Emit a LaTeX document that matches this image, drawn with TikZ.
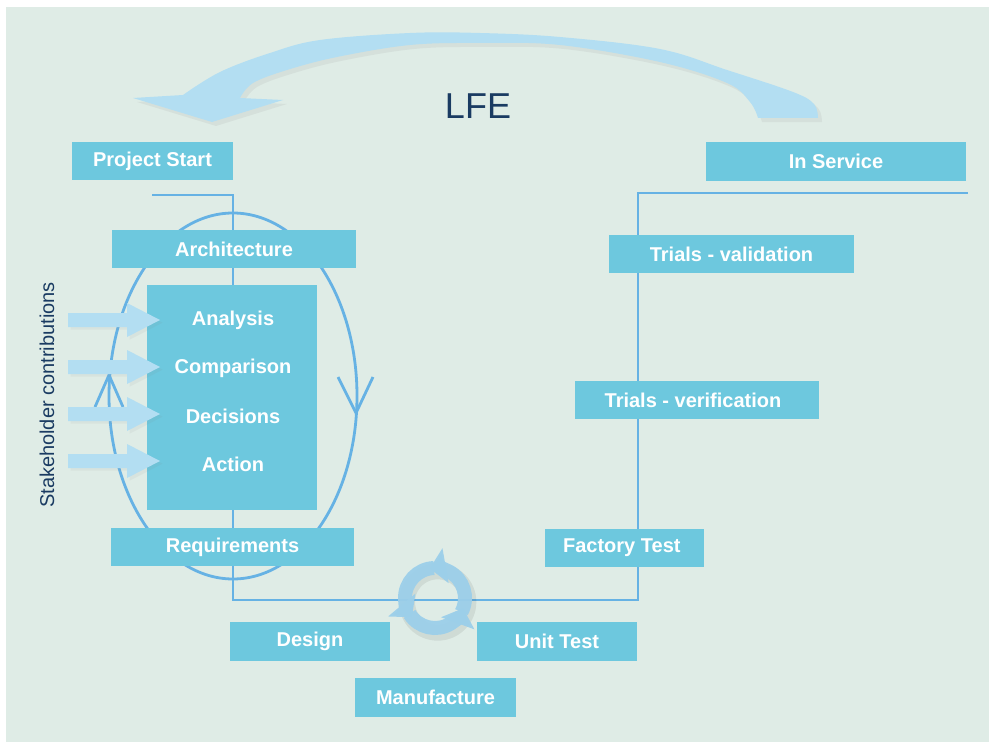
\documentclass[tikz,border=0pt]{standalone}
\usepackage{fontspec}
\setmainfont{Liberation Sans}
\usetikzlibrary{arrows.meta,shadows,calc}
\definecolor{bgc}{HTML}{DFECE6}
\definecolor{boxc}{HTML}{6DC8DE}
\definecolor{linec}{HTML}{66B2E4}
\definecolor{navy}{HTML}{1A3B62}
\definecolor{pale}{HTML}{B3DEF2}
\definecolor{ringc}{HTML}{9CCFEA}
\tikzset{
  stage/.style={fill=boxc, draw=none, text=white, inner sep=0pt,
    font=\fontsize{15}{18}\selectfont\bfseries, minimum height=28.5pt},
  inbox/.style={text=white, inner sep=0pt, font=\fontsize{15}{18}\selectfont\bfseries},
  flow/.style={draw=linec, line width=2.1pt, line join=miter},
  chev/.style={draw=linec, line width=2.1pt, line join=miter},
  stkarrow/.style={fill=pale},
  ring/.style={draw=ringc, line width=10.5pt, -{Triangle[width=26pt,length=12pt]}},
}
\begin{document}
\begin{tikzpicture}[x=0.75pt,y=-0.75pt]
\useasboundingbox (0,0) rectangle (989,742);
\fill[white] (0,0) rectangle (989,742);
\fill[bgc] (6,7) rectangle (989,742);

% main flow line
\coordinate (p0) at (152,195);
\coordinate (p1) at (233,195);
\coordinate (p2) at (233,600);
\coordinate (p3) at (638,600);
\coordinate (p4) at (638,193);
\coordinate (p5) at (968,193);
\draw[flow] (p0) -- (p1) -- (p2) -- (p3) -- (p4) -- (p5);

% iteration ellipse
\coordinate (ec) at (233,396);
\draw[flow] (ec) ellipse [x radius=93pt, y radius=137.25pt];
\coordinate (cr) at (356,413);
\coordinate (cl) at (109,375);
\draw[chev] ($(cr)+(-18,-36)$) -- (cr) -- ($(cr)+(17,-36)$);
\draw[chev] ($(cl)+(-14,32)$) -- (cl) -- ($(cl)+(14,32)$);

% boxes
\node[stage, minimum width=120.75pt] (ps) at (152.5,161) {Project Start};
\node[stage, minimum width=195pt, minimum height=29.25pt] (is) at (836,161.5) {In Service};
\node[stage, minimum width=183pt] (arch) at (234,249) {Architecture};
\node[stage, minimum width=127.5pt, minimum height=168.75pt] (big) at (232,397.5) {};
\node[stage, minimum width=182.25pt] (req) at (232.5,547) {Requirements};
\node[stage, minimum width=183.75pt] (tval) at (731.5,254) {Trials - validation};
\node[stage, minimum width=183pt] (tver) at (697,400) {\hspace*{-6pt}Trials - verification};
\node[stage, minimum width=119.25pt] (ft) at (624.5,548) {\hspace*{-4pt}Factory Test};
\node[stage, minimum width=120pt, minimum height=29.25pt] (des) at (310,641.5) {Design};
\node[stage, minimum width=120pt, minimum height=29.25pt] (ut) at (557,641.5) {Unit Test};
\node[stage, minimum width=120.75pt, minimum height=29.25pt] (man) at (435.5,697.5) {Manufacture};

% stakeholder arrows
\foreach \c in {320,367,414,461}{
  \fill[stkarrow, drop shadow={opacity=0.08, shadow xshift=2pt, shadow yshift=-2pt}] (68,\c-7) -- (127,\c-7) -- (127,\c-17) -- (160,\c)
    -- (127,\c+17) -- (127,\c+7) -- (68,\c+7) -- cycle;
}

% texts in the big box
\node[inbox] (ana) at (233,320) {Analysis};
\node[inbox] (cmp) at (233,368) {Comparison};
\node[inbox] (dec) at (233,416) {Decisions};
\node[inbox] (act) at (233,464) {Action};

\node[rotate=90, text=navy, inner sep=0pt, font=\fontsize{15}{18}\selectfont] (stk) at (47,395) {Stakeholder contributions};

% cycle icon
\coordinate (cyc) at (435,598);
\draw[black, opacity=0.07, line width=12pt] ([shift={(2pt,-3pt)}]cyc) circle[radius=23pt];
\foreach \a in {100,220,340}{
  \draw[ring, opacity=0.95] ([shift={(cyc)}]{\a-128}:22.5pt) arc[start angle=\a-128, end angle=\a, radius=22.5pt];
}

% big return arrow
\fill[pale, drop shadow={opacity=0.1, shadow xshift=3pt, shadow yshift=-3pt}]
  plot[smooth, tension=0.6] coordinates {(818,118) (814,104) (793,92) (727,70) (660,49) (560,37) (480,33) (410,33) (320,40) (270,53) (220,72) (183,95)}
  -- (133,98) -- (212,122) -- (283,100) -- (240,98)
  -- plot[smooth, tension=0.6] coordinates {(240,98) (253,83) (287,70) (337,57) (410,45) (480,43) (560,45) (660,62) (727,83) (750,102) (758,118)}
  -- cycle;

\node[text=navy, inner sep=0pt, font=\fontsize{27}{30}\selectfont] (lfe) at (478,106) {LFE};
\end{tikzpicture}
\end{document}
